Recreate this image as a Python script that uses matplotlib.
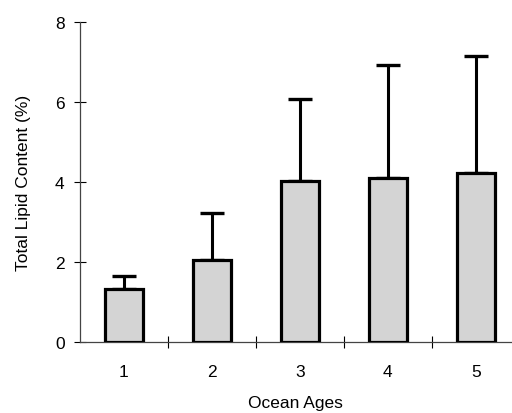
import numpy as np
import matplotlib.pyplot as plt
from matplotlib.ticker import FixedLocator

plt.rcParams['font.family'] = ['Liberation Sans', 'DejaVu Sans']

ages = [1, 2, 3, 4, 5]
lipid = [1.32, 2.05, 4.02, 4.1, 4.22]
lipid_sd = [0.33, 1.17, 2.05, 2.82, 2.93]

fig = plt.figure(figsize=(5.12, 4.14), dpi=100)
ax = fig.add_axes([0.156, 0.171, 0.844, 0.773])

x = np.array(ages)
ax.bar(x, lipid, width=0.44, color='#d4d4d4', edgecolor='black', linewidth=2.3, zorder=3)
ax.errorbar(x, lipid, yerr=[np.zeros(len(x)), lipid_sd], fmt='none', ecolor='black',
            elinewidth=2.2, capsize=8.5, capthick=2.4, zorder=2)

ax.set_xlim(0.5, 5.41)
ax.set_ylim(0, 8)
ax.set_yticks([0, 2, 4, 6, 8])
ax.set_xticks(ages)
ax.xaxis.set_minor_locator(FixedLocator([1.5, 2.5, 3.5, 4.5]))

for s in ['top', 'right']:
    ax.spines[s].set_visible(False)
for s in ['left', 'bottom']:
    ax.spines[s].set_linewidth(0.9)
    ax.spines[s].set_color('#444444')

ax.tick_params(axis='y', direction='inout', length=8, width=0.8, labelsize=12.5, pad=7)
ax.tick_params(axis='x', which='major', length=0, labelsize=12.5, pad=16)
ax.tick_params(axis='x', which='minor', direction='inout', length=8, width=0.8)

ax.set_xlabel('Ocean Ages', fontsize=12.5, labelpad=11)
ax.set_ylabel('Total Lipid Content (%)', fontsize=12.5, labelpad=17)

fig.savefig('out.png', dpi=100)
